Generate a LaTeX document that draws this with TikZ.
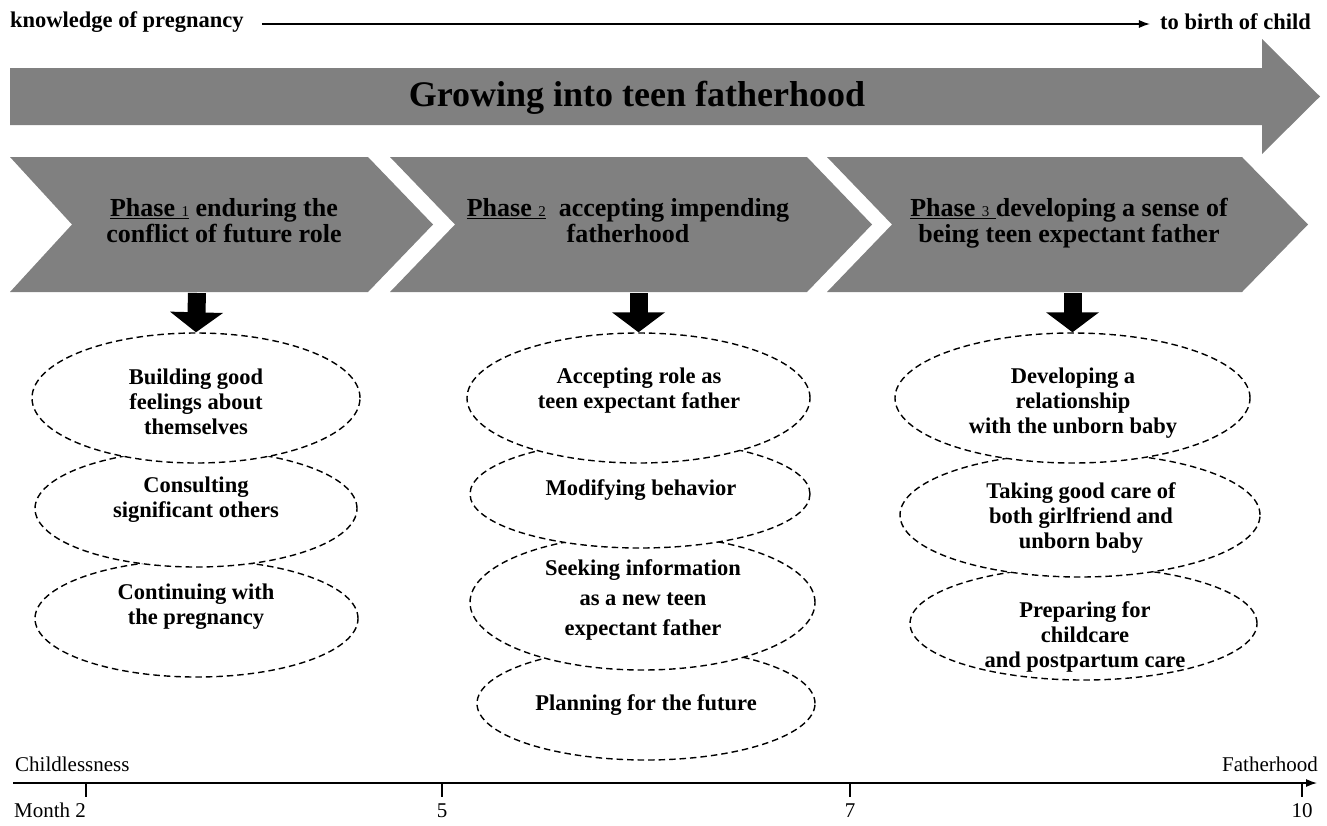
\documentclass[tikz,border=0pt]{standalone}
\usepackage{fontspec}
\setmainfont{Liberation Serif}
\usetikzlibrary{arrows.meta,shapes.geometric}
\definecolor{boxgray}{RGB}{128,128,128}
\newcommand\phdig[1]{{\mdseries\fontsize{15}{15}\selectfont #1}}
\tikzset{
  toplbl/.style={font=\bfseries\fontsize{22.5}{26}\selectfont, inner sep=0},
  titlelbl/.style={font=\bfseries\fontsize{36}{40}\selectfont, inner sep=0},
  phaselbl/.style={font=\bfseries\fontsize{26}{25.5}\selectfont, align=center, inner sep=0, text height=20pt, text depth=6pt},
  bubtxt/.style={font=\bfseries\fontsize{22.5}{25}\selectfont, align=center, inner sep=0},
  bub/.style={ellipse, draw=black, fill=white, line width=1.4pt, dash pattern=on 6.5pt off 4pt, inner sep=0},
  axlbl/.style={font=\fontsize{21}{24}\selectfont, inner sep=0, anchor=base},
  blkarrow/.style={line width=18pt, draw=black, -{Triangle[width=52pt,length=20pt]}},
  thinarrow/.style={line width=1.3pt, -{Latex[length=11pt,width=8pt]}},
}
\begin{document}
\begin{tikzpicture}[x=1pt,y=-1pt]
\useasboundingbox (0,0) rectangle (1327,825);

% top timeline
\node[toplbl, anchor=west] (kp) at (10,22) {knowledge of pregnancy};
\node[toplbl, anchor=east] (bc) at (1311,22) {to birth of child};
\draw[thinarrow, shorten <=18pt, shorten >=10pt] ([yshift=-2pt]kp.east) -- ([yshift=-2pt]bc.west);

% big arrow
\fill[boxgray] (10,68) -- (1262,68) -- (1262,39) -- (1320,96.5) -- (1262,154) -- (1262,125) -- (10,125) -- cycle;
\node[titlelbl] (title) at (637,98) {Growing into teen fatherhood};

% phase chevrons
\fill[boxgray] (10,157) -- (368,157) -- (433,224.5) -- (368,292) -- (10,292) -- (72,224.5) -- cycle;
\fill[boxgray] (390,157) -- (807,157) -- (872,224.5) -- (807,292) -- (390,292) -- (455,224.5) -- cycle;
\fill[boxgray] (827,157) -- (1242,157) -- (1308,224.5) -- (1242,292) -- (827,292) -- (892,224.5) -- cycle;
\node[phaselbl] (p1) at (224,235) {\underline{Phase \phdig{1}} enduring the\\conflict of future role};
\node[phaselbl] (p2) at (628,235) {\underline{Phase \phdig{2}}\ \ accepting impending\\fatherhood};
\node[phaselbl] (p3) at (1069,235) {\underline{Phase \phdig{3}\ }developing a sense of\\being teen expectant father};

% ellipses column 1 (drawn bottom to top)
\node[bub, minimum width=323pt, minimum height=117pt] (e13) at (196.5,618.5) {};
\node[bub, minimum width=322pt, minimum height=117pt] (e12) at (196,508.5) {};
\node[bub, minimum width=328pt, minimum height=130pt] (e11) at (196,398) {};
% column 2
\node[bub, minimum width=338pt, minimum height=113pt] (e24) at (646,703.5) {};
\node[bub, minimum width=345pt, minimum height=135pt] (e23) at (642.5,602.5) {};
\node[bub, minimum width=340pt, minimum height=108pt] (e22) at (640,494) {};
\node[bub, minimum width=343pt, minimum height=130pt] (e21) at (638.5,398) {};
% column 3
\node[bub, minimum width=347pt, minimum height=113pt] (e33) at (1083.5,623.5) {};
\node[bub, minimum width=360pt, minimum height=124pt] (e32) at (1080,515) {};
\node[bub, minimum width=355pt, minimum height=130pt] (e31) at (1072.5,398) {};

% ellipse texts
\node[bubtxt] (t11) at (196,402) {Building good\\feelings about\\themselves};
\node[bubtxt] (t12) at (196,500) {Consulting\\significant others};
\node[bubtxt] (t13) at (196,607) {Continuing with\\the pregnancy};
\node[bubtxt] (t21) at (639,390.5) {Accepting role as\\teen expectant father};
\node[bubtxt] (t22) at (641,490) {Modifying behavior};
\node[bubtxt, font=\bfseries\fontsize{22.5}{30}\selectfont] (t23) at (643,600) {Seeking information\\as a new teen\\expectant father};
\node[bubtxt] (t24) at (646,705) {Planning for the future};
\node[bubtxt] (t31) at (1073,403) {Developing a\\relationship\\with the unborn baby};
\node[bubtxt] (t32) at (1081,518) {Taking good care of\\both girlfriend and\\unborn baby};
\node[bubtxt] (t33) at (1085,637) {Preparing for\\childcare\\and postpartum care};

% block arrows from phases to ellipses
\coordinate (a1) at (197,293);
\coordinate (a2) at (638.5,293);
\coordinate (a3) at (1072.5,293);
\draw[blkarrow] (a1) -- (e11.north);
\draw[blkarrow] (a2) -- (e21.north);
\draw[blkarrow] (a3) -- (e31.north);

% bottom axis
\coordinate (ax0) at (13,783);
\coordinate (ax1) at (1317,783);
\draw[thinarrow] (ax0) -- (ax1);
\foreach \x/\n in {86/k1,442/k2,850/k3,1302/k4}{
  \coordinate (\n) at (\x,783);
  \draw[line width=1.2pt] (\n) -- ++(0,14);
}
\node[axlbl, anchor=base west] (cl) at (15,771) {Childlessness};
\node[axlbl, anchor=base east] (fh) at (1318,771) {Fatherhood};
\node[axlbl, anchor=base west] (m2) at (14,817) {Month 2};
\node[axlbl] (m5) at (442,817) {5};
\node[axlbl] (m7) at (850,817) {7};
\node[axlbl] (m10) at (1302,817) {10};
\end{tikzpicture}
\end{document}
